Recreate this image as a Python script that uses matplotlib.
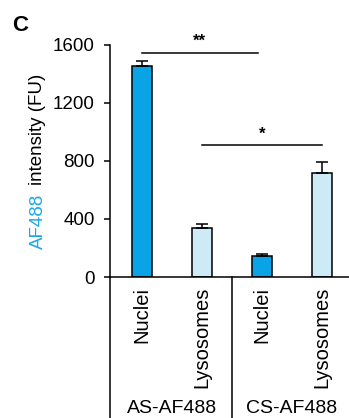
import matplotlib.pyplot as plt
import numpy as np

plt.rcParams["font.family"] = ["Liberation Sans", "DejaVu Sans"]

# data
bar_labels = ["Nuclei", "Lysosomes", "Nuclei", "Lysosomes"]
group_labels = ["AS-AF488", "CS-AF488"]
means = [1450, 340, 145, 715]
errs = [35, 25, 10, 80]
bar_colors = ["#0aa3e6", "#cdeaf7", "#0aa3e6", "#cdeaf7"]
# significance brackets: (x_start, x_end, height, label)
sig = [(0, 1.93, 1545, "**"), (1, 3, 906, "*")]

fig = plt.figure(figsize=(3.49, 4.18), dpi=100)
ax = fig.add_axes([110 / 349, 1 - 277 / 418, 1 - 110 / 349, (277 - 44.7) / 418])

x = np.arange(len(means))
ax.bar(x, means, width=0.32, color=bar_colors, edgecolor="black", linewidth=1.1,
       yerr=[np.zeros(len(errs)), errs], capsize=4,
       error_kw=dict(elinewidth=1.1, capthick=1.1, ecolor="black"), zorder=2)

ax.set_xlim(-0.533, 3.45)
ax.set_ylim(0, 1600)
ax.set_yticks([0, 400, 800, 1200, 1600])
ax.tick_params(axis="y", labelsize=13.5, length=4, width=1.1, pad=7)
ax.set_xticks(x, bar_labels, rotation=90, fontsize=14.5, va="top")
ax.tick_params(axis="x", length=0, pad=7)

for s in ["top", "right"]:
    ax.spines[s].set_visible(False)
for s in ["left", "bottom"]:
    ax.spines[s].set_linewidth(1.1)

# significance
for x0, x1, h, lab in sig:
    ax.plot([x0, x1], [h, h], color="black", lw=1.1, clip_on=False)
    ax.text((x0 + x1) / 2, h + 25, lab, ha="center", va="bottom", fontsize=12,
            fontweight="bold")

# group separators and labels below the axis
tr = ax.get_xaxis_transform()
for xs in [-0.533, 1.5]:
    ax.plot([xs, xs], [0, -0.62], color="black", lw=1.1, transform=tr, clip_on=False)
ax.text(0.5, -0.565, group_labels[0], transform=tr, ha="center", va="center", fontsize=14)
ax.text(2.5, -0.565, group_labels[1], transform=tr, ha="center", va="center", fontsize=14)

# two-colour y label
fig.text(38 / 349, 1 - 249 / 418, "AF488", rotation=90, ha="center", va="bottom",
         color="#1aa7e8", fontsize=13.5)
fig.text(38 / 349, 1 - 185 / 418, "intensity (FU)", rotation=90, ha="center", va="bottom",
         color="black", fontsize=13.5)

fig.text(12 / 349, 1 - 31 / 418, "C", fontsize=16, fontweight="bold", ha="left", va="baseline")

fig.savefig("out.png", dpi=100)
